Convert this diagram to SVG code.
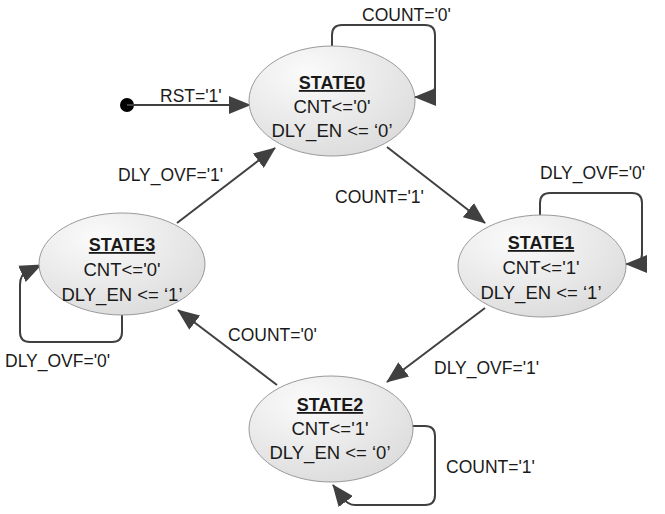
<svg xmlns="http://www.w3.org/2000/svg" width="665" height="514" viewBox="0 0 665 514">
<style>
.st{fill:url(#g);stroke:#9a9a9a;stroke-width:1}
.t{font-family:"Liberation Sans",Arial,sans-serif;font-size:18.5px;fill:#1a1a1a;text-anchor:middle}
.tt{font-weight:bold;text-decoration:underline;font-size:18px}
.lb{font-family:"Liberation Sans",Arial,sans-serif;font-size:17.5px;fill:#1a1a1a}
.c{fill:none;stroke:#404040;stroke-width:2;marker-end:url(#a)}
</style>
<defs>
<radialGradient id="g" cx="0.35" cy="0.25" r="0.85">
<stop offset="0" stop-color="#fbfbfb"/>
<stop offset="1" stop-color="#dadada"/>
</radialGradient>
<marker id="a" markerUnits="userSpaceOnUse" markerWidth="22" markerHeight="18" viewBox="0 0 22 18" refX="21" refY="9" orient="auto">
<path d="M0,0 L22,9 L0,18 z" fill="#404040"/>
</marker>
</defs>
<g id="connectors">
<circle cx="127" cy="105" r="7" fill="#000"/>
<path class="c" d="M127 105 L250 105"/>
<path class="c" d="M332 48 L332 35 Q332 25 342 25 L425 25 Q435 25 435 35 L435 87 Q435 97 424 97 L415 97"/>
<path class="c" d="M387 147 L485 223"/>
<path class="c" d="M540 217 L540 203 Q540 193 550 193 L632 193 Q642 193 642 203 L642 254 Q642 264 631 264 L626 264"/>
<path class="c" d="M485 308 L387 382"/>
<path class="c" d="M412 426 L425 426 Q435 426 435 436 L435 495 Q435 505 425 505 L355 505 Q348 505 343 498 L333 485"/>
<path class="c" d="M277 385 L178 310"/>
<path class="c" d="M122 314 L122 332 Q122 342 112 342 L30 342 Q20 342 20 332 L20 285 Q20 274 28 271 L41 265"/>
<path class="c" d="M177 223 L275 148"/>
<text class="lb" x="160" y="102">RST='1'</text>
<text class="lb" x="362" y="21">COUNT='0'</text>
<text class="lb" x="335" y="203">COUNT='1'</text>
<text class="lb" x="540" y="179">DLY_OVF='0'</text>
<text class="lb" x="434" y="374">DLY_OVF='1'</text>
<text class="lb" x="446" y="473">COUNT='1'</text>
<text class="lb" x="228" y="341">COUNT='0'</text>
<text class="lb" x="5" y="367">DLY_OVF='0'</text>
<text class="lb" x="118" y="181">DLY_OVF='1'</text>
</g>
<g id="state0">
<ellipse class="st" cx="332" cy="101" rx="83" ry="55"/>
<text class="t tt" x="332" y="89">STATE0</text>
<text class="t" x="332" y="113">CNT&lt;='0'</text>
<text class="t" x="332" y="137">DLY_EN &lt;= ‘0’</text>
</g>
<g id="state1">
<ellipse class="st" cx="542" cy="266" rx="84" ry="51"/>
<text class="t tt" x="541" y="249">STATE1</text>
<text class="t" x="541" y="274">CNT&lt;='1'</text>
<text class="t" x="541" y="299">DLY_EN &lt;= ‘1’</text>
</g>
<g id="state2">
<ellipse class="st" cx="331" cy="429" rx="82" ry="53"/>
<text class="t tt" x="330" y="411">STATE2</text>
<text class="t" x="330" y="435">CNT&lt;='1'</text>
<text class="t" x="330" y="459">DLY_EN &lt;= ‘0’</text>
</g>
<g id="state3">
<ellipse class="st" cx="122" cy="264" rx="83" ry="51"/>
<text class="t tt" x="122" y="251">STATE3</text>
<text class="t" x="122" y="276">CNT&lt;='0'</text>
<text class="t" x="122" y="301">DLY_EN &lt;= ‘1’</text>
</g>
</svg>
